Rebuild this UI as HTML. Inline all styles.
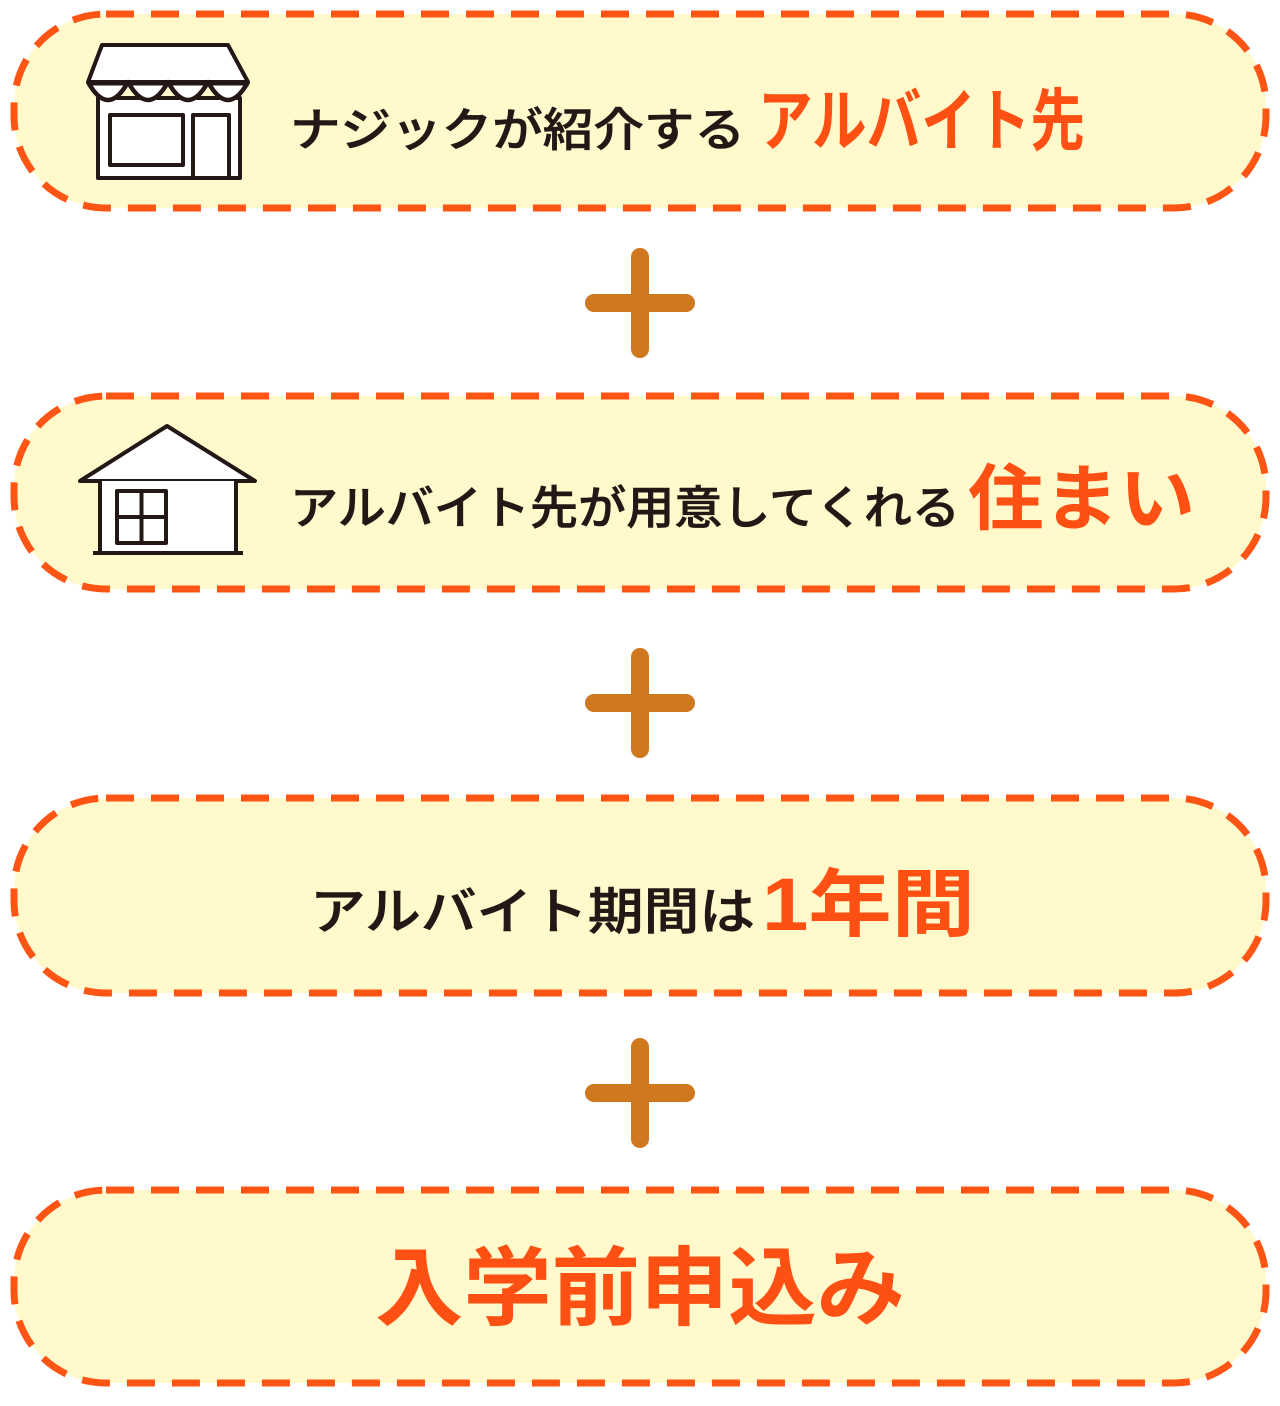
<!DOCTYPE html>
<html><head><meta charset="utf-8"><style>
html,body{margin:0;padding:0;background:#fff;}
svg{display:block}
text{font-family:"Liberation Sans","Noto Sans CJK JP",sans-serif;}
.d{font-weight:500;stroke:#231815;stroke-width:0.6}
</style></head><body>
<svg width="1280" height="1406" viewBox="0 0 1280 1406" xmlns="http://www.w3.org/2000/svg">
<g fill="#fff9cc" stroke="#ff5514" stroke-width="7" stroke-dasharray="28 17">
<rect x="14" y="14" width="1252" height="194" rx="92"/>
<rect x="14" y="396" width="1252" height="193" rx="92"/>
<rect x="14" y="798" width="1252" height="195" rx="92"/>
<rect x="14" y="1190" width="1252" height="193" rx="92"/>
</g>
<g stroke="#d0781e" stroke-width="18" stroke-linecap="round">
<line x1="640" y1="257" x2="640" y2="349"/><line x1="594" y1="303" x2="686" y2="303"/>
<line x1="640" y1="657" x2="640" y2="749"/><line x1="594" y1="703" x2="686" y2="703"/>
<line x1="640" y1="1047" x2="640" y2="1139"/><line x1="594" y1="1093" x2="686" y2="1093"/>
</g>
<!-- shop -->
<g fill="#fff" stroke="#231815" stroke-width="4" stroke-linejoin="round">
<rect x="98" y="98" width="142" height="80"/>
<path d="M102 45 L228 45 L248 82 L88 82 Z"/>
<path d="M88 82 Q108 118 128 82 Q148 118 168 82 Q188 118 208 82 Q228 118 248 82" stroke-width="4.5"/>
<line x1="88" y1="83" x2="248" y2="83" stroke-width="5"/>
<rect x="110" y="115" width="73" height="50"/>
<rect x="193" y="115" width="36" height="63"/>
</g>
<!-- house -->
<g fill="#fff" stroke="#231815" stroke-width="4" stroke-linejoin="round">
<path d="M167 426 L255 481 L80 481 Z"/>
<rect x="100" y="481" width="136" height="72" stroke="none"/>
<line x1="100" y1="481" x2="100" y2="553"/><line x1="236" y1="481" x2="236" y2="553"/>
<line x1="93" y1="553" x2="243" y2="553"/>
<rect x="117" y="491" width="49" height="52"/>
<line x1="141.5" y1="491" x2="141.5" y2="543"/><line x1="117" y1="517" x2="166" y2="517"/>
</g>
<text class="d" x="290" y="146" font-size="46" fill="#231815" textLength="455" lengthAdjust="spacingAndGlyphs">ナジックが紹介する</text>
<text x="758" y="145" font-size="68" font-weight="bold" fill="#ff5014" textLength="327" lengthAdjust="spacingAndGlyphs">アルバイト先</text>
<text class="d" x="290" y="524" font-size="46" fill="#231815" textLength="670" lengthAdjust="spacingAndGlyphs">アルバイト先が用意してくれる</text>
<text x="968" y="524" font-size="72" font-weight="bold" fill="#ff5014" textLength="227" lengthAdjust="spacingAndGlyphs">住まい</text>
<text class="d" x="310" y="929" font-size="50" fill="#231815" textLength="445" lengthAdjust="spacingAndGlyphs">アルバイト期間は</text>
<text x="762" y="930" font-size="74" font-weight="bold" fill="#ff5014" textLength="213" lengthAdjust="spacingAndGlyphs">1年間</text>
<text x="375" y="1318" font-size="86" font-weight="bold" fill="#ff5014" textLength="530" lengthAdjust="spacingAndGlyphs">入学前申込み</text>
</svg>
</body></html>
